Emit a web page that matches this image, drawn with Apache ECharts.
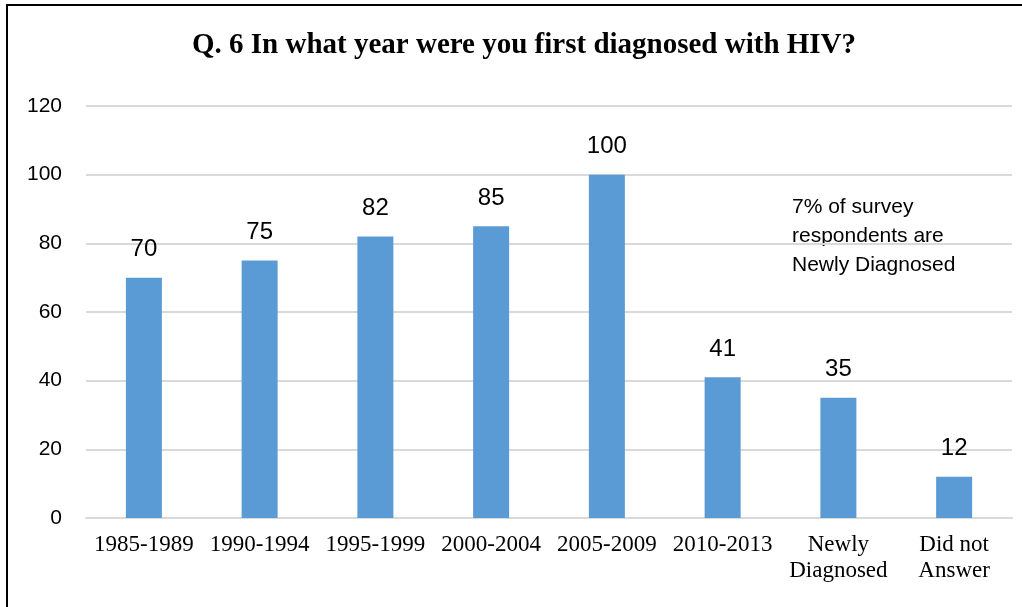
<!DOCTYPE html>
<html>
<head>
<meta charset="utf-8">
<title>Q6 diagnosis year</title>
<script src="https://cdn.jsdelivr.net/npm/echarts@6/dist/echarts.min.js"></script>
<style>
  html, body { margin: 0; padding: 0; background: #fff; }
  #chart { width: 1022px; height: 607px; }
</style>
</head>
<body>
<div id="chart"></div>
<script>
// categories and counts
const years = ['1985-1989', '1990-1994', '1995-1999', '2000-2004', '2005-2009', '2010-2013', 'Newly\nDiagnosed', 'Did not\nAnswer'];
const counts = [70, 75, 82, 85, 100, 41, 35, 12];
const yTicks = [0, 20, 40, 60, 80, 100, 120];
const note = '7% of survey\nrespondents are\nNewly Diagnosed';

let myChart = echarts.init(document.getElementById('chart'));

let option = {
    animation: false,
    backgroundColor: '#fff',
    title: {
        text: 'Q. 6 In what year were you first diagnosed with HIV?',
        left: 187,
        top: 26,
        textStyle: {
            fontFamily: 'Liberation Serif',
            fontWeight: 'bold',
            fontSize: 29,
            color: '#000'
        }
    },
    grid: {
        left: 86,
        right: 10,
        top: 106,
        bottom: 89
    },
    xAxis: {
        type: 'category',
        data: years,
        axisLine: { lineStyle: { color: '#d9d9d9', width: 2 } },
        axisTick: { show: false },
        axisLabel: {
            fontFamily: 'Liberation Serif',
            fontSize: 23,
            lineHeight: 26,
            color: '#000',
            margin: 14,
            interval: 0
        }
    },
    yAxis: {
        type: 'value',
        min: yTicks[0],
        max: yTicks[yTicks.length - 1],
        interval: 20,
        axisLine: { show: false },
        axisTick: { show: false },
        splitLine: { lineStyle: { color: '#d9d9d9', width: 2 } },
        axisLabel: {
            fontFamily: 'Liberation Sans',
            fontSize: 21,
            color: '#000',
            margin: 24
        }
    },
    series: [{
        type: 'bar',
        data: counts,
        barWidth: 36,
        itemStyle: { color: '#5b9bd5' },
        label: {
            show: true,
            position: 'top',
            distance: 16,
            fontFamily: 'Liberation Sans',
            fontSize: 24,
            color: '#000'
        }
    }],
    graphic: [
        {
            type: 'rect',
            shape: { x: 7, y: 5, width: 1100, height: 700 },
            style: { fill: 'none', stroke: '#000', lineWidth: 2 },
            silent: true
        },
        {
            type: 'text',
            left: 792,
            top: 193,
            style: {
                text: note,
                fontFamily: 'Liberation Sans',
                fontSize: 21,
                lineHeight: 29,
                fill: '#000'
            }
        }
    ]
};

myChart.setOption(option);
window.addEventListener('resize', () => {
    myChart.resize();
});
</script>
</body>
</html>
